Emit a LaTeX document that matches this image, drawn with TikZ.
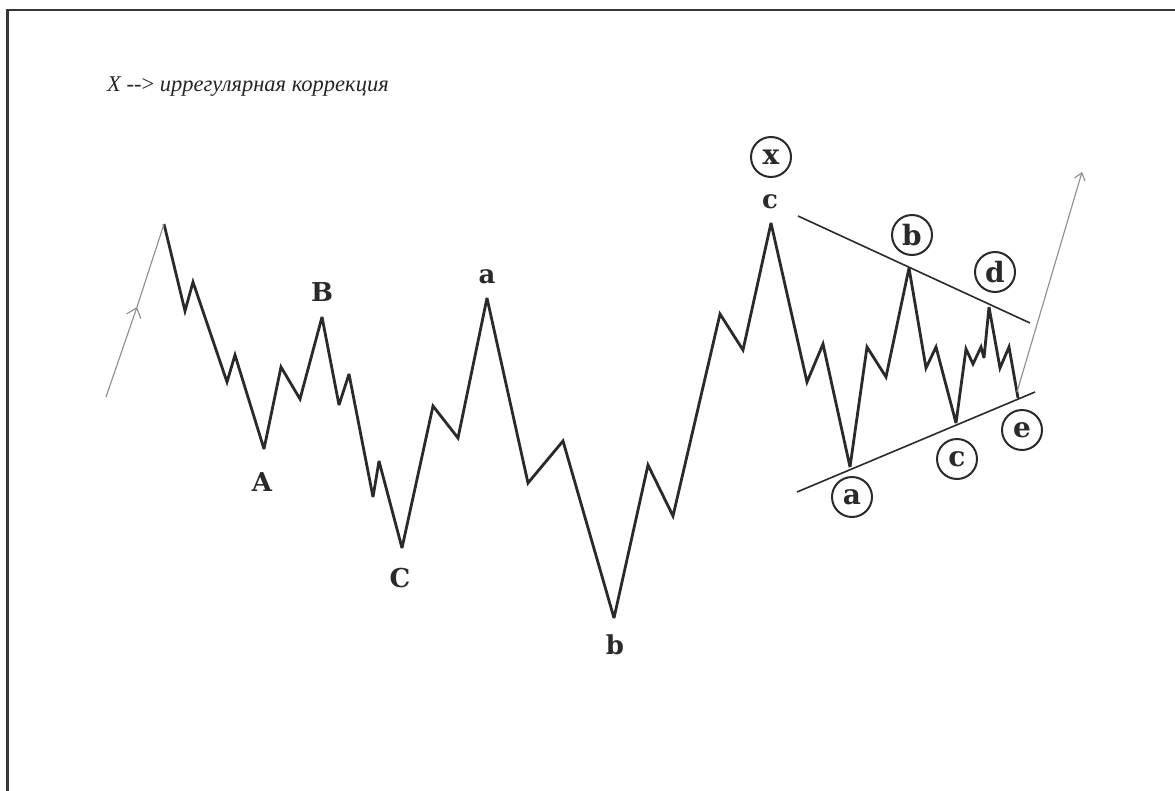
\documentclass[tikz,border=0pt]{standalone}
\usepackage{fontspec}
\setmainfont{Liberation Serif}
\newfontfamily\lblfont{DejaVu Serif}
\usetikzlibrary{arrows.meta}
\definecolor{framecol}{HTML}{3A3538}
\definecolor{wavecol}{HTML}{2A2A2A}
\definecolor{arrowcol}{HTML}{8C8C8C}
\begin{document}
\begin{tikzpicture}[x=1pt,y=-1pt,
  wave/.style={draw=wavecol,line width=2.8pt,line join=miter,miter limit=4},
  trend/.style={draw=wavecol,line width=1.6pt},
  garrow/.style={draw=arrowcol,line width=1.1pt},
  lbl/.style={font=\lblfont\bfseries\fontsize{26}{26}\selectfont,text=wavecol,inner sep=0pt},
  clbl/.style={circle,draw=wavecol,line width=2pt,minimum size=40pt,inner sep=0pt,
    font=\lblfont\bfseries\fontsize{28}{28}\selectfont,text=wavecol},
  ttl/.style={font=\itshape\fontsize{22.5}{22.5}\selectfont,text=black!85,anchor=base west,inner sep=0pt}]
\useasboundingbox (0,0) rectangle (1175,790);
\fill[white] (0,0) rectangle (1175,790);
% frame (top and left only)
\draw[framecol,line width=2.6pt] (7.5,791) -- (7.5,10) -- (1176,10);
% title
\node[ttl] (title) at (107,91) {X {\upshape-{}->} иррегулярная коррекция};
% wave points
\coordinate (p0) at (164,224);
\coordinate (p1) at (185,311);
\coordinate (p2) at (193,282);
\coordinate (p3) at (227,382);
\coordinate (p4) at (235,355);
\coordinate (pA) at (264,449);
\coordinate (p6) at (281,367);
\coordinate (p7) at (300,399);
\coordinate (pB) at (322,317);
\coordinate (p9) at (339,405);
\coordinate (p10) at (349,374);
\coordinate (p11) at (373,497);
\coordinate (p12) at (379,461);
\coordinate (pC) at (402,548);
\coordinate (p14) at (433,406);
\coordinate (p15) at (458,438);
\coordinate (pa) at (487,298);
\coordinate (p17) at (528,483);
\coordinate (p18) at (563,441);
\coordinate (pb) at (614,618);
\coordinate (p20) at (648,465);
\coordinate (p21) at (673,516);
\coordinate (p22) at (720,314);
\coordinate (p23) at (743,350);
\coordinate (pc) at (771,223);
\coordinate (p25) at (807,382);
\coordinate (p26) at (823,344);
\coordinate (qa) at (850,467);
\coordinate (p28) at (867,347);
\coordinate (p29) at (886,377);
\coordinate (qb) at (909,268);
\coordinate (p31) at (926,368);
\coordinate (p32) at (936,347);
\coordinate (qc) at (956,423);
\coordinate (p34) at (966,349);
\coordinate (p35) at (973,364);
\coordinate (p36) at (981,347);
\coordinate (p37) at (984,358);
\coordinate (qd) at (989,307);
\coordinate (p39) at (1000,368);
\coordinate (p40) at (1009,347);
\coordinate (qe) at (1018,398);
\draw[wave] (p0) -- (p1) -- (p2) -- (p3) -- (p4) -- (pA) -- (p6) -- (p7) -- (pB)
  -- (p9) -- (p10) -- (p11) -- (p12) -- (pC) -- (p14) -- (p15) -- (pa) -- (p17)
  -- (p18) -- (pb) -- (p20) -- (p21) -- (p22) -- (p23) -- (pc) -- (p25) -- (p26)
  -- (qa) -- (p28) -- (p29) -- (qb) -- (p31) -- (p32) -- (qc) -- (p34) -- (p35)
  -- (p36) -- (p37) -- (qd) -- (p39) -- (p40) -- (qe);
% trend lines
\coordinate (u1) at (798,216);
\coordinate (u2) at (1030,323);
\coordinate (l1) at (797,492);
\coordinate (l2) at (1035,392);
\draw[trend] (u1) -- (u2);
\draw[trend] (l1) -- (l2);
% gray arrows
\coordinate (la0) at (106,397);
\coordinate (lam) at (137,307);
\draw[garrow,-{Straight Barb[length=9pt,width=15pt]}] (la0) -- (lam);
\draw[garrow] (lam) -- (p0);
\coordinate (ra0) at (1017,392);
\coordinate (ra1) at (1082,172);
\draw[garrow,-{Straight Barb[length=7pt,width=11pt]}] (ra0) -- (ra1);
% labels
\node[lbl] (lA) at (262,482) {A};
\node[lbl] (lB) at (322,292) {B};
\node[lbl] (lC) at (400,578) {C};
\node[lbl] (la) at (487,277) {a};
\node[lbl] (lb) at (615,645) {b};
\node[lbl] (lc) at (770,202) {c};
\node[clbl] (cx) at (771,157) {x};
\node[clbl] (cb) at (912,235) {b};
\node[clbl] (cd) at (995,272) {d};
\node[clbl] (ca) at (852,497) {a};
\node[clbl] (cc) at (957,459) {c};
\node[clbl] (ce) at (1022,430) {e};
\end{tikzpicture}
\end{document}
